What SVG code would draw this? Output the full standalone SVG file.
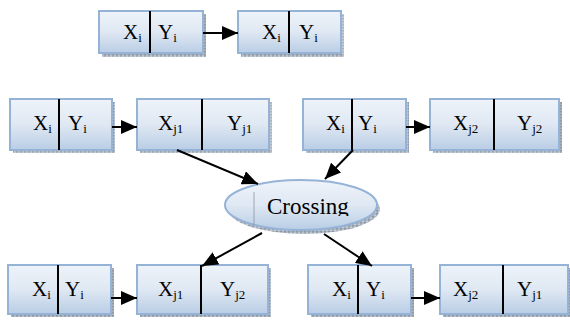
<svg xmlns="http://www.w3.org/2000/svg" width="570" height="320" viewBox="0 0 570 320">
  <defs>
    <linearGradient id="boxFill" x1="0" y1="0" x2="0" y2="1">
      <stop offset="0" stop-color="#eef3f9"/>
      <stop offset="0.5" stop-color="#dfe8f3"/>
      <stop offset="1" stop-color="#b9cde5"/>
    </linearGradient>
    <pattern id="shadowDots" width="4" height="3" patternUnits="userSpaceOnUse">
      <rect width="4" height="3" fill="#aab3be"/>
      <rect x="0" y="0" width="2" height="1.5" fill="#8e99a6"/>
      <rect x="2" y="1.5" width="2" height="1.5" fill="#c5ccd5"/>
    </pattern>
    <marker id="arrow" viewBox="0 0 16 14" refX="16" refY="7" markerWidth="16" markerHeight="14" markerUnits="userSpaceOnUse" orient="auto">
      <path d="M0,0 L16,7 L0,14 Z" fill="#000"/>
    </marker>
    <clipPath id="labelClip">
      <rect x="230" y="180" width="150" height="36"/>
    </clipPath>
  </defs>
  <style>
    .shadow { fill: url(#shadowDots); }
    .box { fill: url(#boxFill); stroke: #95b3d7; stroke-width: 2; }
    .divider { stroke: #000; stroke-width: 2; }
    .lbl { font-family: "Liberation Serif", "Times New Roman", serif; font-size: 21px; fill: #000; }
    .sub { font-size: 13px; }
    .big { font-size: 23px; }
    .edge { stroke: #000; stroke-width: 2; fill: none; marker-end: url(#arrow); }
  </style>

  <!-- top row -->
  <g id="top-a">
    <rect class="shadow" x="102" y="14" width="104" height="43"/>
    <rect class="box" x="99" y="11" width="104" height="42"/>
    <line class="divider" x1="150" y1="11" x2="150" y2="53"/>
    <text class="lbl" x="123" y="39">X<tspan class="sub" dy="3">i</tspan></text>
    <text class="lbl" x="158" y="39">Y<tspan class="sub" dy="3">i</tspan></text>
  </g>
  <g id="top-b">
    <rect class="shadow" x="241" y="14" width="103" height="43"/>
    <rect class="box" x="238" y="11" width="103" height="42"/>
    <line class="divider" x1="289" y1="11" x2="289" y2="53"/>
    <text class="lbl" x="262" y="39">X<tspan class="sub" dy="3">i</tspan></text>
    <text class="lbl" x="299" y="39">Y<tspan class="sub" dy="3">i</tspan></text>
  </g>

  <!-- middle row -->
  <g id="mid-1">
    <rect class="shadow" x="13" y="102" width="102" height="51"/>
    <rect class="box" x="10" y="99" width="102" height="51"/>
    <line class="divider" x1="59" y1="99" x2="59" y2="150"/>
    <text class="lbl" x="33" y="130">X<tspan class="sub" dy="3">i</tspan></text>
    <text class="lbl" x="68" y="130">Y<tspan class="sub" dy="3">i</tspan></text>
  </g>
  <g id="mid-2">
    <rect class="shadow" x="140" y="102" width="132" height="51"/>
    <rect class="box" x="137" y="99" width="132" height="51"/>
    <line class="divider" x1="202" y1="99" x2="202" y2="150"/>
    <text class="lbl" x="158" y="130">X<tspan class="sub" dy="3">j1</tspan></text>
    <text class="lbl" x="227" y="130">Y<tspan class="sub" dy="3">j1</tspan></text>
  </g>
  <g id="mid-3">
    <rect class="shadow" x="306" y="102" width="103" height="51"/>
    <rect class="box" x="303" y="99" width="103" height="51"/>
    <line class="divider" x1="352" y1="99" x2="352" y2="150"/>
    <text class="lbl" x="326" y="130">X<tspan class="sub" dy="3">i</tspan></text>
    <text class="lbl" x="358" y="130">Y<tspan class="sub" dy="3">i</tspan></text>
  </g>
  <g id="mid-4">
    <rect class="shadow" x="433" y="102" width="129" height="51"/>
    <rect class="box" x="430" y="99" width="129" height="51"/>
    <line class="divider" x1="494" y1="99" x2="494" y2="150"/>
    <text class="lbl" x="453" y="130">X<tspan class="sub" dy="3">j2</tspan></text>
    <text class="lbl" x="517" y="130">Y<tspan class="sub" dy="3">j2</tspan></text>
  </g>

  <!-- crossing operator -->
  <g id="crossing">
    <ellipse cx="304" cy="209" rx="76" ry="25" fill="url(#shadowDots)"/>
    <ellipse cx="301" cy="205" rx="76" ry="25" fill="url(#boxFill)" stroke="#95b3d7" stroke-width="2"/>
    <line x1="254" y1="192" x2="254" y2="225" stroke="#8a96a6" stroke-width="0.8"/>
    <text class="lbl big" x="267" y="214" clip-path="url(#labelClip)">Crossing</text>
  </g>

  <!-- bottom row -->
  <g id="bot-1">
    <rect class="shadow" x="11" y="268" width="103" height="49"/>
    <rect class="box" x="8" y="265" width="103" height="49"/>
    <line class="divider" x1="58" y1="265" x2="58" y2="314"/>
    <text class="lbl" x="32" y="296">X<tspan class="sub" dy="3">i</tspan></text>
    <text class="lbl" x="65" y="296">Y<tspan class="sub" dy="3">i</tspan></text>
  </g>
  <g id="bot-2">
    <rect class="shadow" x="140" y="268" width="131" height="49"/>
    <rect class="box" x="137" y="265" width="131" height="49"/>
    <line class="divider" x1="201" y1="265" x2="201" y2="314"/>
    <text class="lbl" x="158" y="296">X<tspan class="sub" dy="3">j1</tspan></text>
    <text class="lbl" x="220" y="296">Y<tspan class="sub" dy="3">j2</tspan></text>
  </g>
  <g id="bot-3">
    <rect class="shadow" x="311" y="268" width="103" height="49"/>
    <rect class="box" x="308" y="265" width="103" height="49"/>
    <line class="divider" x1="358" y1="265" x2="358" y2="314"/>
    <text class="lbl" x="332" y="296">X<tspan class="sub" dy="3">i</tspan></text>
    <text class="lbl" x="366" y="296">Y<tspan class="sub" dy="3">i</tspan></text>
  </g>
  <g id="bot-4">
    <rect class="shadow" x="443" y="268" width="128" height="49"/>
    <rect class="box" x="440" y="265" width="128" height="49"/>
    <line class="divider" x1="503" y1="265" x2="503" y2="314"/>
    <text class="lbl" x="453" y="296">X<tspan class="sub" dy="3">j2</tspan></text>
    <text class="lbl" x="517" y="296">Y<tspan class="sub" dy="3">j1</tspan></text>
  </g>

  <!-- connectors -->
  <g id="connectors">
    <line class="edge" x1="203" y1="33" x2="238" y2="33"/>
    <line class="edge" x1="112" y1="127" x2="137" y2="127"/>
    <line class="edge" x1="406" y1="127" x2="430" y2="127"/>
    <line class="edge" x1="177" y1="150" x2="258" y2="184"/>
    <line class="edge" x1="353" y1="150" x2="325" y2="179"/>
    <line class="edge" x1="262" y1="233" x2="202" y2="266"/>
    <line class="edge" x1="324" y1="234" x2="372" y2="266"/>
    <line class="edge" x1="111" y1="298" x2="137" y2="298"/>
    <line class="edge" x1="411" y1="298" x2="440" y2="298"/>
  </g>
</svg>
